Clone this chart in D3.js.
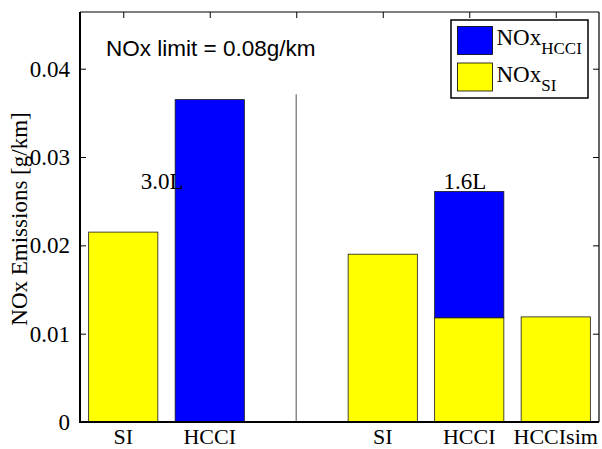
<!DOCTYPE html>
<html>
<head>
<meta charset="utf-8">
<script src="https://cdn.jsdelivr.net/npm/d3@7"></script>
<style>
  body { margin: 0; background: #fff; }
  svg { display: block; }
  text.serif { font-family: 'Liberation Serif', 'Times New Roman', Times, serif; }
  text.sans { font-family: 'Liberation Sans', Arial, Helvetica, sans-serif; }
</style>
</head>
<body>
<svg id="chart" width="602" height="449"></svg>
<script>
// ---- data ----
const categories = ["SI", "HCCI", "", "SI", "HCCI", "HCCIsim"];
const positions = [1, 2, 3, 4, 5, 6];
const noxSI   = [0.0215, 0,      0, 0.0190, 0.0118, 0.0119];
const noxHCCI = [0,      0.0365, 0, 0,      0.0143, 0];
const barPositions = [1, 2, 4, 5, 6];
const yTicks = [0, 0.01, 0.02, 0.03, 0.04];
const yTickLabels = ["0", "0.01", "0.02", "0.03", "0.04"];
const topTicks = [1, 2, 3, 4, 5, 6];
const engineLabels = ["3.0L", "1.6L"];
const engineLabelX = [1.45, 4.95];
const engineLabelY = [0.02635, 0.02635];
const dividerX = 3;
const dividerTop = 0.0371;
const yMax = 0.04642;
const limitText = "NOx limit = 0.08g/km";
const seriesKeys = ["si", "hcci"];
const seriesColors = { si: "#ffff00", hcci: "#0000ff" };
const legendMain = ["NOx", "NOx"];
const legendSub = ["HCCI", "SI"];
const legendKeys = ["hcci", "si"];

// ---- layout ----
const svg = d3.select("#chart");
const L = 80, R = 599, T = 12, B = 422;
const x = d3.scaleLinear().domain([0.5, 6.5]).range([L, R]);
const y = d3.scaleLinear().domain([0, yMax]).range([B, T]);
const bw = (x(2) - x(1)) * 0.8;

const rows = positions.map((p, i) => ({ pos: p, si: noxSI[i], hcci: noxHCCI[i] }))
  .filter(d => barPositions.includes(d.pos));
const stacked = d3.stack().keys(seriesKeys)(rows);

// bottom ticks (under bars)
svg.append("g").selectAll("line").data(barPositions).join("line")
  .attr("x1", d => x(d)).attr("x2", d => x(d))
  .attr("y1", B).attr("y2", B - 6).attr("stroke", "#000");

// divider line
svg.append("line")
  .attr("x1", x(dividerX)).attr("x2", x(dividerX))
  .attr("y1", y(dividerTop)).attr("y2", y(0))
  .attr("stroke", "#8c8c8c").attr("stroke-width", 1.5);

// bars
stacked.forEach(s => {
  svg.append("g").selectAll("rect").data(s.filter(d => d[1] - d[0] > 0)).join("rect")
    .attr("x", d => x(d.data.pos) - bw / 2)
    .attr("width", bw)
    .attr("y", d => y(d[1]))
    .attr("height", d => y(d[0]) - y(d[1]))
    .attr("fill", seriesColors[s.key])
    .attr("stroke", "#1a1a1a").attr("stroke-width", 0.8);
});

// axes box
svg.append("line").attr("x1", L).attr("x2", R).attr("y1", T).attr("y2", T).attr("stroke", "#000").attr("stroke-width", 1.2);
svg.append("line").attr("x1", R).attr("x2", R).attr("y1", T).attr("y2", B).attr("stroke", "#000").attr("stroke-width", 1.2);
svg.append("line").attr("x1", L).attr("x2", L).attr("y1", T).attr("y2", B + 1).attr("stroke", "#000").attr("stroke-width", 2);
svg.append("line").attr("x1", L - 1).attr("x2", R).attr("y1", B).attr("y2", B).attr("stroke", "#000").attr("stroke-width", 2);

// left axis ticks + labels
const yAxis = d3.axisLeft(y).tickValues(yTicks).tickSizeInner(-6).tickSizeOuter(0)
  .tickPadding(10).tickFormat((d, i) => yTickLabels[i]);
const ya = svg.append("g").attr("transform", `translate(${L},0)`).call(yAxis);
ya.attr("font-family", null).attr("font-size", null);
ya.select(".domain").remove();
ya.selectAll("line").attr("stroke", "#000");
ya.selectAll("text").attr("class", "serif").style("font-size", "23px").attr("fill", "#000");

// right ticks
const yr = svg.append("g").attr("transform", `translate(${R},0)`)
  .call(d3.axisRight(y).tickValues(yTicks).tickSizeInner(-6).tickSizeOuter(0).tickFormat(""));
yr.select(".domain").remove();
yr.selectAll("line").attr("stroke", "#000");

// top ticks
const ta = svg.append("g").attr("transform", `translate(0,${T})`)
  .call(d3.axisTop(x).tickValues(topTicks).tickSizeInner(-6).tickSizeOuter(0).tickFormat(""));
ta.select(".domain").remove();
ta.selectAll("line").attr("stroke", "#000");

// x labels
svg.append("g").selectAll("text").data(positions.filter((p, i) => categories[i] !== "")).join("text")
  .attr("class", "serif")
  .attr("x", d => x(d)).attr("y", 444)
  .attr("text-anchor", "middle")
  .style("font-size", "22px")
  .text(d => categories[positions.indexOf(d)]);

// y label
svg.append("text")
  .attr("class", "serif")
  .attr("transform", `translate(27,${(T + B) / 2 + 2}) rotate(-90)`)
  .attr("text-anchor", "middle")
  .style("font-size", "23px")
  .text("NOx Emissions [g/km]");

// engine labels
svg.append("g").selectAll("text").data(engineLabels).join("text")
  .attr("class", "serif")
  .attr("x", (d, i) => x(engineLabelX[i])).attr("y", (d, i) => y(engineLabelY[i]))
  .attr("text-anchor", "middle")
  .style("font-size", "23px")
  .text(d => d);

// limit text
svg.append("text").attr("class", "sans").attr("x", 106).attr("y", 56)
  .style("font-size", "22.5px")
  .text(limitText);

// legend
const lg = svg.append("g").attr("transform", "translate(451,20)");
lg.append("rect").attr("width", 137).attr("height", 78).attr("fill", "#fff")
  .attr("stroke", "#000").attr("stroke-width", 1.5);
legendKeys.forEach((k, i) => {
  const g = lg.append("g").attr("transform", `translate(0,${i * 36.5})`);
  g.append("rect").attr("x", 6.5).attr("y", 6.5).attr("width", 35).attr("height", 28)
    .attr("fill", seriesColors[k]).attr("stroke", "#000").attr("stroke-width", 0.8);
  const t = g.append("text").attr("class", "serif").attr("x", 45.5).attr("y", 25)
    .style("font-size", "23px");
  t.append("tspan").text(legendMain[i]);
  t.append("tspan").attr("dy", 9).style("font-size", "17px").text(legendSub[i]);
});
</script>
</body>
</html>
